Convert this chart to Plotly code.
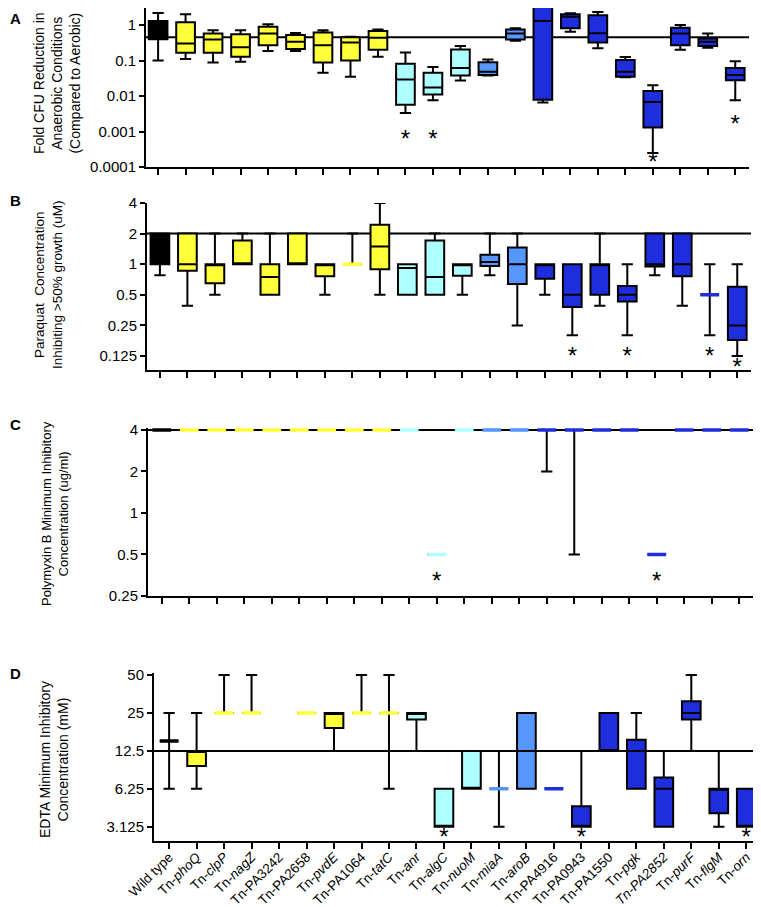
import math

import plotly.graph_objects as go

# strain labels (x axis of all four panels)
strains = ['Wild type', 'Tn-<i>phoQ</i>', 'Tn-<i>clpP</i>', 'Tn-<i>nagZ</i>', 'Tn-PA3242',
           'Tn-PA2658', 'Tn-<i>pvdE</i>', 'Tn-PA1064', 'Tn-<i>tatC</i>', 'Tn-<i>anr</i>',
           'Tn-<i>algC</i>', 'Tn-<i>nuoM</i>', 'Tn-<i>miaA</i>', 'Tn-<i>aroB</i>', 'Tn-PA4916',
           'Tn-PA0943', 'Tn-PA1550', 'Tn-<i>pgk</i>', '<i>Tn-PA2852</i>', 'Tn-<i>purF</i>',
           'Tn-<i>flgM</i>', 'Tn-<i>orn</i>']
groups = ['wt'] + ['yellow'] * 8 + ['cyan'] * 3 + ['mid'] * 2 + ['dark'] * 8

# A: fold CFU reduction (anaerobic vs aerobic)
a_low = [0.10, 0.11, 0.088, 0.092, 0.185, 0.185, 0.045, 0.035, 0.127, 0.0033, 0.0076,
         0.0275, 0.038, 0.36, 0.0066, 0.65, 0.22, 0.034, 0.00025, 0.20, 0.23, 0.0076]
a_q1 = [0.40, 0.165, 0.165, 0.127, 0.27, 0.21, 0.088, 0.10, 0.20, 0.0057, 0.011,
        0.038, 0.039, 0.39, 0.0079, 0.81, 0.32, 0.035, 0.0013, 0.27, 0.255, 0.028]
a_med = [0.45, 0.30, 0.39, 0.235, 0.58, 0.34, 0.27, 0.32, 0.44, 0.029, 0.0173,
         0.062, 0.048, 0.58, 1.3, 1.72, 0.59, 0.048, 0.0068, 0.58, 0.34, 0.039]
a_q3 = [1.3, 1.19, 0.58, 0.55, 0.9, 0.52, 0.62, 0.45, 0.68, 0.081, 0.045,
        0.205, 0.09, 0.75, 3.75, 2.0, 1.88, 0.103, 0.0139, 0.84, 0.42, 0.062]
a_high = [2.2, 2.0, 0.71, 0.71, 1.05, 0.6, 0.71, 0.47, 0.75, 0.169, 0.066,
          0.255, 0.107, 0.81, 4.4, 2.14, 2.33, 0.125, 0.02, 1.0, 0.58, 0.096]
a_ref = 0.45
a_stars = {9: 0.00054, 10: 0.00054, 18: 0.00012, 21: 0.0014}

# B: paraquat concentration inhibiting >50% growth (uM)
b_low = [0.78, 0.39, 0.5, 1.0, 0.5, 1.0, 0.5, 1.0, 0.5, 0.5, 0.5,
         0.5, 0.78, 0.25, 0.5, 0.2, 0.39, 0.2, 0.78, 0.39, 0.2, 0.125]
b_q1 = [1.0, 0.86, 0.65, 1.0, 0.5, 1.0, 0.76, 1.0, 0.89, 0.5, 0.5,
        0.77, 0.96, 0.64, 0.72, 0.38, 0.5, 0.43, 0.95, 0.76, 0.5, 0.18]
b_med = [1.0, 1.0, 1.0, 1.0, 0.75, 1.0, 1.0, 1.0, 1.49, 0.92, 0.75,
         1.0, 1.05, 1.0, 1.0, 0.5, 1.0, 0.5, 1.0, 1.0, 0.5, 0.25]
b_q3 = [2.0, 2.0, 1.0, 1.71, 1.0, 2.0, 1.0, 1.0, 2.44, 1.0, 1.71,
        1.0, 1.24, 1.46, 1.0, 1.0, 1.0, 0.61, 2.0, 2.0, 0.5, 0.6]
b_high = [2.0, 2.0, 2.0, 2.0, 2.0, 2.0, 1.0, 2.0, 4.0, 1.0, 2.0,
          1.0, 2.0, 2.0, 1.0, 1.0, 2.0, 1.0, 2.0, 2.0, 1.0, 1.0]
b_ref = 2.0
b_stars = {15: 0.12, 17: 0.12, 20: 0.12, 21: 0.093}

# C: polymyxin B MIC (ug/ml)
c_low = [4, 4, 4, 4, 4, 4, 4, 4, 4, 4, 0.5, 4, 4, 4, 2, 0.5, 4, 4, 0.5, 4, 4, 4]
c_q1 = [4, 4, 4, 4, 4, 4, 4, 4, 4, 4, 0.5, 4, 4, 4, 4, 4, 4, 4, 0.5, 4, 4, 4]
c_med = [4, 4, 4, 4, 4, 4, 4, 4, 4, 4, 0.5, 4, 4, 4, 4, 4, 4, 4, 0.5, 4, 4, 4]
c_q3 = [4, 4, 4, 4, 4, 4, 4, 4, 4, 4, 0.5, 4, 4, 4, 4, 4, 4, 4, 0.5, 4, 4, 4]
c_high = [4, 4, 4, 4, 4, 4, 4, 4, 4, 4, 0.5, 4, 4, 4, 4, 4, 4, 4, 0.5, 4, 4, 4]
c_ref = 4
c_stars = {10: 0.31, 18: 0.31}

# D: EDTA MIC (mM); Tn-PA3242 not tested
d_low = [6.25, 6.25, 25, 25, None, 25, 12.5, 25, 6.25, 12.5, 3.125,
         6.25, 3.125, 6.25, 6.25, 3.125, 12.5, 6.25, 3.125, 12.5, 3.125, 3.125]
d_q1 = [15, 9.5, 25, 25, None, 25, 19, 25, 25, 22.2, 3.125,
        6.25, 6.25, 6.25, 6.25, 3.125, 12.5, 6.25, 3.125, 22.2, 4.0, 3.125]
d_med = [15, 12.5, 25, 25, None, 25, 25, 25, 25, 25, 3.125,
         6.25, 6.25, 12.5, 6.25, 3.125, 12.5, 12.5, 6.25, 25, 6.25, 3.125]
d_q3 = [15, 12.5, 25, 25, None, 25, 25, 25, 25, 25, 6.25,
        12.5, 6.25, 25, 6.25, 4.55, 25, 15.3, 7.7, 31, 6.25, 6.25]
d_high = [25, 25, 50, 50, None, 25, 25, 50, 50, 25, 6.25,
          12.5, 12.5, 25, 6.25, 12.5, 25, 25, 12.5, 50, 12.5, 6.25]
d_ref = 12.5
d_stars = {10: 2.5, 15: 2.5, 21: 2.5}

colors = {'wt': '#000000', 'yellow': '#FFFF3A', 'cyan': '#AEFFFF',
          'mid': '#5597FF', 'dark': '#1F2EDC'}
FONT = 'Liberation Sans, Arial, sans-serif'

# the page body has an 8px margin, so lay out in window pixels minus that
OFF = 8
W, H = 761 - OFF, 907 - OFF


def fx(px):
    return (px - OFF) / W


def fy(py):
    return 1 - (py - OFF) / H


panels = [
    dict(n='', lo=a_low, q1=a_q1, med=a_med, q3=a_q3, hi=a_high, ref=a_ref, stars=a_stars,
         px=(146, 749), py=(8, 167), xr=(-0.44, 21.5), yr=(0.0001, 3.02),
         ticks=[1, 0.1, 0.01, 0.001, 0.0001], tt=['1', '0.1', '0.01', '0.001', '0.0001'],
         letter='A', ly=8, title='Fold CFU Reduction in<br>Anaerobic Conditions<br>(Compared to Aerobic)',
         tx=57, ty=83, tsize=14),
    dict(n='2', lo=b_low, q1=b_q1, med=b_med, q3=b_q3, hi=b_high, ref=b_ref, stars=b_stars,
         px=(147, 751), py=(203, 370), xr=(-0.47, 21.5), yr=(0.091, 4),
         ticks=[4, 2, 1, 0.5, 0.25, 0.125], tt=['4', '2', '1', '0.5', '0.25', '0.125'],
         letter='B', ly=190, title='Paraquat  Concentration<br>Inhibiting >50% growth (uM)',
         tx=48, ty=285, tsize=13.5),
    dict(n='3', lo=c_low, q1=c_q1, med=c_med, q3=c_q3, hi=c_high, ref=c_ref, stars=c_stars,
         px=(148, 753), py=(428, 596), xr=(-0.5, 21.5), yr=(0.25, 4.13),
         ticks=[4, 2, 1, 0.5, 0.25], tt=['4', '2', '1', '0.5', '0.25'],
         letter='C', ly=414, title='Polymyxin B Minimum Inhibitory<br>Concentration (ug/ml)',
         tx=55, ty=514, tsize=13),
    dict(n='4', lo=d_low, q1=d_q1, med=d_med, q3=d_q3, hi=d_high, ref=d_ref, stars=d_stars,
         px=(154, 760), py=(673, 841), xr=(-0.55, 21.5), yr=(2.41, 51.9),
         ticks=[50, 25, 12.5, 6.25, 3.125], tt=['50', '25', '12.5', '6.25', '3.125'],
         letter='D', ly=663, title='EDTA Minimum Inhibitory<br>Concentration (mM)',
         tx=54, ty=760, tsize=14),
]

fig = go.Figure()
shapes = []
annotations = []
layout = {}

for p in panels:
    xa, ya = 'x' + p['n'], 'y' + p['n']
    for i in range(len(strains)):
        if p['q1'][i] is None:
            continue
        col = colors[groups[i]]
        fig.add_trace(go.Box(
            x=[i], q1=[p['q1'][i]], median=[p['med'][i]], q3=[p['q3'][i]],
            lowerfence=[p['lo'][i]], upperfence=[p['hi'][i]],
            fillcolor=col, line=dict(color='black', width=2),
            width=0.68, whiskerwidth=0.6, boxpoints=False,
            xaxis=xa, yaxis=ya, showlegend=False, hoverinfo='skip'))
        if p['q1'][i] == p['q3'][i]:
            # collapsed box shows as a coloured dash
            fig.add_trace(go.Box(
                x=[i], q1=[p['q1'][i]], median=[p['q1'][i]], q3=[p['q1'][i]],
                lowerfence=[p['q1'][i]], upperfence=[p['q1'][i]],
                fillcolor=col, line=dict(color=col, width=3.5),
                width=0.68, whiskerwidth=0, boxpoints=False,
                xaxis=xa, yaxis=ya, showlegend=False, hoverinfo='skip'))
    sx = list(p['stars'].keys())
    fig.add_trace(go.Scatter(
        x=sx, y=[p['stars'][k] for k in sx], mode='text', text=['*'] * len(sx),
        textfont=dict(size=24, color='black', family=FONT), textposition='middle center',
        xaxis=xa, yaxis=ya, showlegend=False, hoverinfo='skip', cliponaxis=False))

    shapes.append(dict(type='line', xref=xa, yref=ya, x0=p['xr'][0], x1=p['xr'][1],
                       y0=p['ref'], y1=p['ref'], line=dict(color='black', width=2), layer='below'))

    layout['xaxis' + p['n']] = dict(
        domain=[fx(p['px'][0]), fx(p['px'][1])], anchor=ya, range=list(p['xr']),
        tickvals=list(range(len(strains))), ticktext=strains,
        showticklabels=(p['n'] == '4'), tickangle=-45, automargin=False,
        ticklabelstandoff=-5,
        ticks='outside', ticklen=6, tickwidth=2, tickcolor='black',
        showline=True, linecolor='black', linewidth=2, showgrid=False, zeroline=False,
        tickfont=dict(size=13.5, color='black', family=FONT))
    layout['yaxis' + p['n']] = dict(
        domain=[fy(p['py'][1]), fy(p['py'][0])], anchor=xa, type='log',
        range=[math.log10(p['yr'][0]), math.log10(p['yr'][1])],
        tickvals=p['ticks'], ticktext=p['tt'], automargin=False,
        ticks='outside', ticklen=5, tickwidth=2, tickcolor='black',
        showline=True, linecolor='black', linewidth=2, showgrid=False, zeroline=False,
        tickfont=dict(size=15, color='black', family=FONT))

    annotations.append(dict(text='<b>' + p['letter'] + '</b>', xref='paper', yref='paper',
                            x=0, y=fy(p['ly']), showarrow=False,
                            xanchor='left', yanchor='top',
                            font=dict(size=15, color='black', family=FONT)))
    annotations.append(dict(text=p['title'], xref='paper', yref='paper',
                            x=fx(p['tx']), y=fy(p['ty']), showarrow=False, textangle=-90,
                            xanchor='center', yanchor='middle',
                            font=dict(size=p['tsize'], color='black', family=FONT)))

fig.update_layout(
    template='none', width=W, height=H, margin=dict(l=0, r=0, t=0, b=0, autoexpand=False),
    plot_bgcolor='white', paper_bgcolor='white', boxmode='overlay',
    shapes=shapes, annotations=annotations, **layout)

fig.write_html("out.html")
